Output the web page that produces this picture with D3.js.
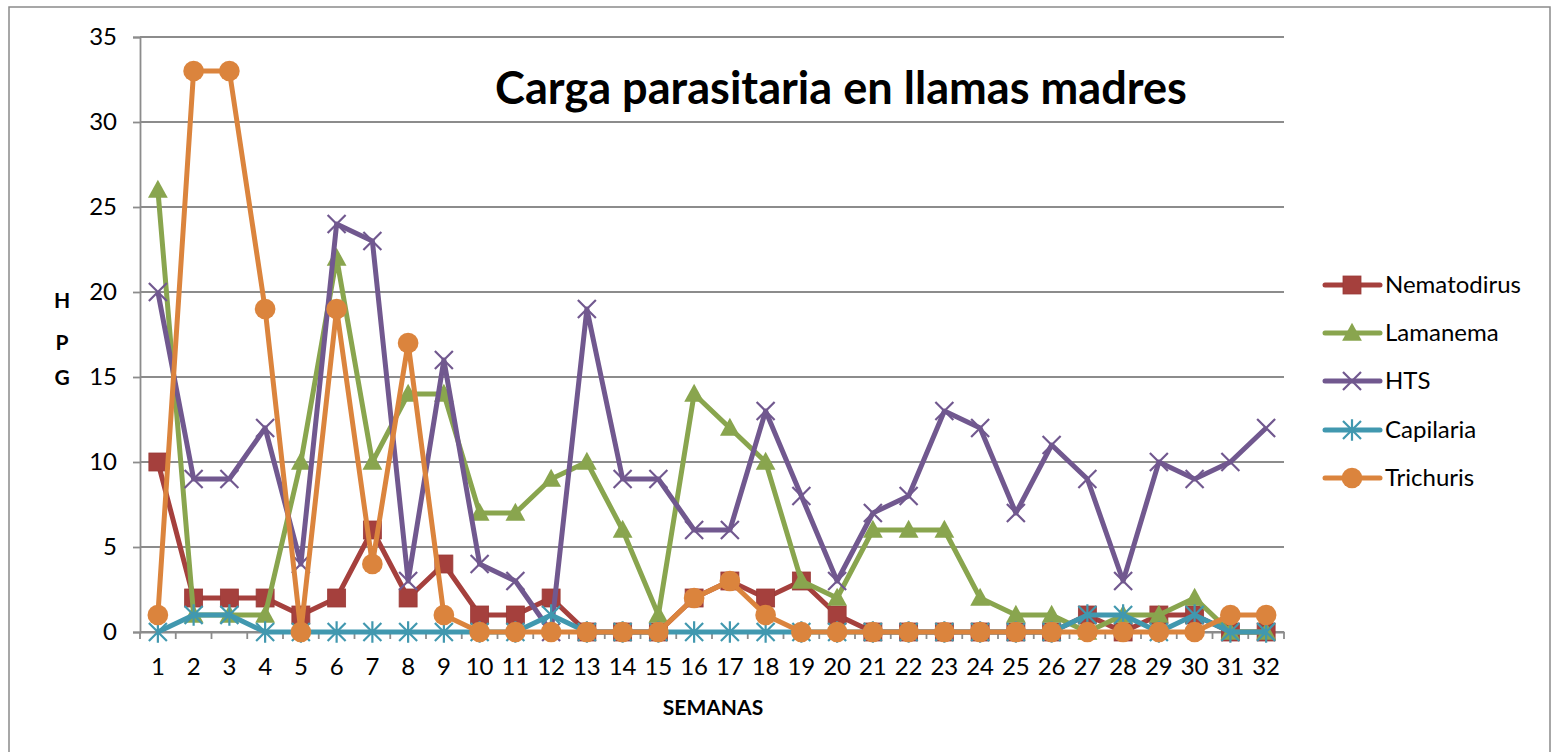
<!DOCTYPE html>
<html>
<head>
<meta charset="utf-8">
<script src="https://cdn.jsdelivr.net/npm/d3@7"></script>
<style>
  html, body { margin: 0; padding: 0; background: #fff; }
  svg { display: block; font-family: Lato, "Open Sans", sans-serif; }
</style>
</head>
<body>
<svg id="chart" width="1551" height="752"></svg>
<script>
// ---- data ----
const weeks = d3.range(1, 33).map(String);
const yTicks = [0, 5, 10, 15, 20, 25, 30, 35];
const seriesNames = ["Nematodirus", "Lamanema", "HTS", "Capilaria", "Trichuris"];
const nematodirus = [10,2,2,2,1,2,6,2,4,1,1,2,0,0,0,2,3,2,3,1,0,0,0,0,0,0,1,0,1,1,0,0];
const lamanema    = [26,1,1,1,10,22,10,14,14,7,7,9,10,6,1,14,12,10,3,2,6,6,6,2,1,1,0,1,1,2,0,0];
const hts         = [20,9,9,12,4,24,23,3,16,4,3,0,19,9,9,6,6,13,8,3,7,8,13,12,7,11,9,3,10,9,10,12];
const capilaria   = [0,1,1,0,0,0,0,0,0,0,0,1,0,0,0,0,0,0,0,0,0,0,0,0,0,0,1,1,0,1,0,0];
const trichuris   = [1,33,33,19,0,19,4,17,1,0,0,0,0,0,0,2,3,1,0,0,0,0,0,0,0,0,0,0,0,0,1,1];
const titleText = "Carga parasitaria en llamas madres";
const xTitle = "SEMANAS";
const yTitle = ["H", "P", "G"];

// ---- styles ----
const colors = ["#A5403D", "#89A54E", "#71588F", "#4198AF", "#DB843D"];
const markers = ["square", "triangle", "x", "star", "circle"];
const allSeries = [nematodirus, lamanema, hts, capilaria, trichuris];
const gridColor = "#8c8c8c";

const svg = d3.select("#chart");
const margin = {left: 140, top: 37, right: 1284, bottom: 632};

// outer border
svg.append("rect").attr("x", 9).attr("y", 7).attr("width", 1541).attr("height", 760)
  .attr("fill", "none").attr("stroke", "#8a8a8a").attr("stroke-width", 1.5);

const x = d3.scaleBand().domain(weeks).range([margin.left, margin.right]).padding(0);
const y = d3.scaleLinear().domain([0, 35]).range([margin.bottom, margin.top]);

// gridlines
svg.append("g").selectAll("line").data(yTicks).join("line")
  .attr("x1", margin.left).attr("x2", margin.right)
  .attr("y1", d => y(d)).attr("y2", d => y(d))
  .attr("stroke", gridColor).attr("stroke-width", 1.8);

// y axis
const yAxis = svg.append("g").attr("transform", `translate(${margin.left},0)`)
  .call(d3.axisLeft(y).tickValues(yTicks).tickSize(7).tickPadding(16));
yAxis.select(".domain").attr("stroke", gridColor).attr("stroke-width", 1.8);
yAxis.selectAll(".tick line").attr("stroke", gridColor).attr("stroke-width", 1.8);
yAxis.selectAll("text").attr("font-size", 24).attr("font-family", "Lato").attr("fill", "#000");

// x axis
const xAxis = svg.append("g").attr("transform", `translate(0,${margin.bottom})`)
  .call(d3.axisBottom(x).tickSize(0).tickPadding(26));
xAxis.select(".domain").attr("stroke", gridColor).attr("stroke-width", 1.8);
xAxis.selectAll("text").attr("font-size", 24).attr("font-family", "Lato").attr("fill", "#000");
// category boundary ticks
svg.append("g").selectAll("line").data(d3.range(0, weeks.length + 1)).join("line")
  .attr("x1", i => margin.left + i * x.bandwidth()).attr("x2", i => margin.left + i * x.bandwidth())
  .attr("y1", margin.bottom).attr("y2", margin.bottom + 7)
  .attr("stroke", gridColor).attr("stroke-width", 1.8);

// marker drawing
function drawMarker(g, type, color, size) {
  const s = size / 2;
  if (type === "square") {
    g.append("rect").attr("x", -s).attr("y", -s).attr("width", size).attr("height", size)
      .attr("fill", color).attr("stroke", "#9a3b38").attr("stroke-width", 0.8);
  } else if (type === "triangle") {
    g.append("path").attr("d", `M0,${-s*1.15}L${s*1.1},${s*0.85}L${-s*1.1},${s*0.85}Z`).attr("fill", color);
  } else if (type === "circle") {
    g.append("circle").attr("r", s * 1.15).attr("fill", color);
  } else if (type === "x") {
    g.append("path").attr("d", `M${-s},${-s}L${s},${s}M${-s},${s}L${s},${-s}`)
      .attr("stroke", color).attr("stroke-width", 2.2).attr("fill", "none");
  } else if (type === "star") {
    g.append("path").attr("d", `M${-s},${-s}L${s},${s}M${-s},${s}L${s},${-s}M0,${-s*1.2}L0,${s*1.2}`)
      .attr("stroke", color).attr("stroke-width", 2.2).attr("fill", "none");
  }
}

const line = d3.line().x((d, i) => x(weeks[i]) + x.bandwidth() / 2).y(d => y(d));

allSeries.forEach((vals, si) => {
  const g = svg.append("g");
  g.append("path").datum(vals).attr("d", line).attr("fill", "none")
    .attr("stroke", colors[si]).attr("stroke-width", 5).attr("stroke-linejoin", "round");
  vals.forEach((v, i) => {
    const mg = g.append("g").attr("transform", `translate(${x(weeks[i]) + x.bandwidth()/2},${y(v)})`);
    drawMarker(mg, markers[si], colors[si], 18);
  });
});

// title
const title = svg.append("text").attr("x", 841).attr("y", 104).attr("text-anchor", "middle")
  .attr("font-family", "Lato").attr("font-weight", "bold").attr("font-size", 40).attr("fill", "#000")
  .text(titleText);
const tw = title.node().getComputedTextLength();
title.attr("font-size", 40 * 692 / tw);

// axis titles
svg.append("text").attr("x", 713).attr("y", 715).attr("text-anchor", "middle")
  .attr("font-family", "Lato").attr("font-weight", "bold").attr("font-size", 21).text(xTitle);
yTitle.forEach((c, i) => {
  svg.append("text").attr("x", 62).attr("y", [308, 350, 385][i]).attr("text-anchor", "middle")
    .attr("font-family", "Lato").attr("font-weight", "bold").attr("font-size", 21).text(c);
});

// legend
const legY = [285, 333, 381, 430, 478];
seriesNames.forEach((name, si) => {
  const g = svg.append("g").attr("transform", `translate(0,${legY[si]})`);
  g.append("line").attr("x1", 1325).attr("x2", 1380).attr("y1", 0).attr("y2", 0)
    .attr("stroke", colors[si]).attr("stroke-width", 5).attr("stroke-linecap", "round");
  const mg = g.append("g").attr("transform", "translate(1352,0)");
  drawMarker(mg, markers[si], colors[si], 18);
  g.append("text").attr("x", 1385).attr("y", 0).attr("dy", "0.35em")
    .attr("font-family", "Lato").attr("font-size", 24).attr("fill", "#000").text(name);
});
</script>
</body>
</html>
